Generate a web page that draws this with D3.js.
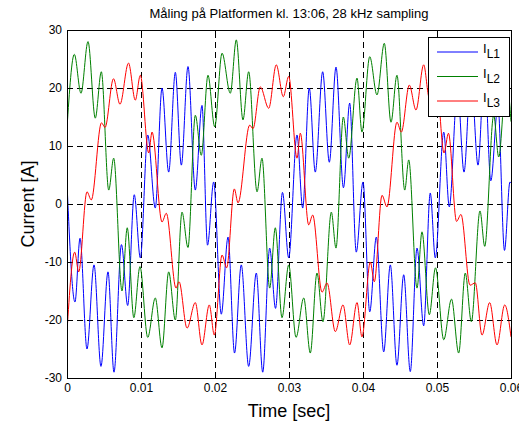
<!DOCTYPE html>
<html>
<head>
<meta charset="utf-8">
<script src="https://d3js.org/d3.v7.min.js"></script>
<style>
body{margin:0;background:#fff;}
text{font-family:Arial,"Liberation Sans",sans-serif;fill:#000;}
</style>
</head>
<body>
<div id="chart"></div>
<script>
// peaks and troughs: [time ms, current A]
var iL1 = [[0,3.6],[1.08,-16.9],[1.76,-5.9],[2.70,-25],[3.65,-10.5],[4.59,-28],[5.54,-11.7],[6.35,-29],[7.36,-7],[8.20,-17.5],[9.09,1.6],[9.91,-9.3],[10.91,11.9],[11.93,-0.7],[12.84,20],[13.74,5.5],[14.64,22.7],[15.45,6.7],[16.35,23.7],[17.34,2.4],[18.24,17],[18.99,-7.1],[19.82,3.8],
  [20.85,-19],[21.76,-5.7],[22.64,-25.7],[23.55,-10.5],[24.55,-28],[25.58,-11.9],[26.45,-29],[27.39,-7.6],[28.18,-18],[29.12,2],[29.96,-9.3],[31.08,11.9],[31.85,-0.7],[32.74,20],[33.55,5.5],[34.55,22.8],[35.45,7.2],[36.35,23.6],[37.36,2.8],[38.20,17.4],[39.09,-8.3],[40.0,3.8],
  [40.91,-18.6],[41.80,-5.7],[42.80,-25.5],[43.69,-10.5],[44.59,-27.8],[45.50,-12.2],[46.39,-28.9],[47.30,-7.6],[48.20,-21],[49.09,1.9],[49.77,-9.3],[50.91,12.4],[51.66,-0.5],[52.77,20],[53.65,5.5],[54.59,22.7],[55.54,6.7],[56.42,23.7],[57.27,4],[58.24,17],[59.12,-8],[59.86,3.8],[60,3.6]];
var iL2 = [[0,13.1],[0.99,25.8],[1.89,19.1],[2.84,28.0],[3.82,14.8],[4.64,22.8],[5.64,2.4],[6.31,7.9],[7.43,-15],[8.14,-4.1],[9.03,-19.6],[9.86,-10.8],[10.91,-23],[11.93,-16.2],[12.84,-24.8],[13.74,-11.7],[14.64,-20],[15.54,-1.4],[16.35,-7.5],[17.34,15.3],[18.15,8.4],[19.05,22.2],[19.96,13.3],
  [20.95,26],[22.07,19.1],[22.88,28.3],[23.78,14.5],[24.55,22.8],[25.68,2.1],[26.35,7.9],[27.39,-14.5],[28.15,-4.1],[29.05,-19.6],[29.96,-10.5],[30.95,-23],[31.99,-16.2],[32.88,-25.7],[33.78,-11.9],[34.59,-20.3],[35.72,-1.4],[36.35,-7.6],[37.34,15],[38.07,7.9],[39.19,21.7],[39.86,12.4],
  [40.91,25.4],[41.89,18.8],[42.88,27.7],[43.78,14.1],[44.59,22.2],[45.64,2.4],[46.18,7.6],[47.30,-14.5],[47.97,-4.8],[48.96,-19.1],[49.80,-11],[50.91,-23.4],[51.96,-16.4],[52.93,-25.7],[53.82,-11.9],[54.64,-20.3],[55.81,-1.2],[56.45,-7.3],[57.66,15.3],[58.34,8.1],[59.36,21.7],[60,14.2]];
var iL3 = [[0,-22],[1.04,-8.3],[1.58,-11.7],[2.70,2.1],[3.28,0.7],[4.66,14],[5.14,13.2],[6.28,21.6],[7.16,17.2],[8.31,24.3],[9.23,17.9],[9.91,22.2],[11.04,8.8],[11.49,12.4],[12.84,-3.1],[13.42,-1.6],[14.73,-14.5],[15.14,-13.4],[16.22,-21.4],[17.34,-17],[18.24,-24.3],[19.23,-17.4],[19.91,-22.6],
  [20.95,-8.8],[21.58,-11],[22.61,2.6],[23.11,0.2],[24.69,13.6],[25.14,13],[26.12,20.2],[27.26,16.5],[28.28,24],[29.23,18.5],[29.96,22],[31.08,7.9],[31.53,12.2],[32.66,-3.6],[33.20,-1.9],[34.46,-15.2],[35.14,-13.6],[36.26,-22],[37.30,-17.4],[38.20,-24.3],[39.19,-17],[39.86,-22.9],
  [40.99,-10],[41.53,-13.4],[42.57,1.5],[43.24,-0.5],[44.59,14.1],[45.18,12.4],[46.26,20.5],[47.16,16.2],[48.20,24],[48.96,18.3],[49.86,22.2],[50.95,8.8],[51.55,12.2],[52.64,-3],[53.24,-1.8],[54.46,-14],[55.18,-13.6],[56.08,-22.6],[57.12,-17],[58.11,-24.3],[59.15,-17.4],[60,-22.9]];

var xTicks = [0, 0.01, 0.02, 0.03, 0.04, 0.05, 0.06];
var yTicks = [-30, -20, -10, 0, 10, 20, 30];
var names = ["L1", "L2", "L3"];
var colors = ["#0000ff", "#008000", "#ff0000"];

var W = 519, H = 422;
var pl = 67, pr = 511, pt = 30, pb = 378;

var svg = d3.select("#chart").append("svg").attr("width", W).attr("height", H);
svg.append("rect").attr("width", W).attr("height", H).attr("fill", "#fff");

var x = d3.scaleLinear().domain([0, 0.06]).range([pl, pr]);
var y = d3.scaleLinear().domain([-30, 30]).range([pb, pt]);

// dashed grid
var grid = svg.append("g").attr("stroke", "#000").attr("stroke-width", 1)
  .attr("stroke-dasharray", "6,4").attr("shape-rendering", "crispEdges");
grid.selectAll(".gx").data(xTicks.slice(1, -1)).join("line")
  .attr("x1", function(d){ return x(d); }).attr("x2", function(d){ return x(d); })
  .attr("y1", pb).attr("y2", pt);
grid.selectAll(".gy").data(yTicks.slice(1, -1)).join("line")
  .attr("x1", pl).attr("x2", pr)
  .attr("y1", function(d){ return y(d); }).attr("y2", function(d){ return y(d); });

svg.append("clipPath").attr("id", "clip").append("rect")
  .attr("x", pl).attr("y", pt).attr("width", pr - pl).attr("height", pb - pt);

var line = d3.line()
  .x(function(d){ return x(d[0] / 1000); })
  .y(function(d){ return y(d[1]); })
  .curve(d3.curveMonotoneX);

var series = [iL1, iL2, iL3];
svg.append("g").attr("clip-path", "url(#clip)").selectAll("path").data(series).join("path")
  .attr("d", line)
  .attr("fill", "none")
  .attr("stroke", function(d, i){ return colors[i]; })
  .attr("stroke-width", 1);

// axes, ticks inside on all four sides
var fmtX = function(d){ return d === 0 ? "0" : d.toFixed(2); };
var fmtY = function(d){ return String(d); };
svg.append("g").attr("transform", "translate(0," + pb + ")")
  .call(d3.axisBottom(x).tickValues(xTicks).tickFormat(fmtX).tickSizeInner(-4).tickSizeOuter(0).tickPadding(5));
svg.append("g").attr("transform", "translate(" + pl + ",0)")
  .call(d3.axisLeft(y).tickValues(yTicks).tickFormat(fmtY).tickSizeInner(-4).tickSizeOuter(0).tickPadding(5));
svg.append("g").attr("transform", "translate(0," + pt + ")")
  .call(d3.axisTop(x).tickValues(xTicks).tickFormat("").tickSizeInner(-4).tickSizeOuter(0));
svg.append("g").attr("transform", "translate(" + pr + ",0)")
  .call(d3.axisRight(y).tickValues(yTicks).tickFormat("").tickSizeInner(-4).tickSizeOuter(0));
svg.selectAll(".tick text").attr("font-size", 12).attr("font-family", "Arial, 'Liberation Sans', sans-serif");
svg.selectAll(".domain, .tick line").attr("stroke", "#000").attr("shape-rendering", "crispEdges");

svg.append("rect").attr("x", pl).attr("y", pt).attr("width", pr - pl).attr("height", pb - pt)
  .attr("fill", "none").attr("stroke", "#000").attr("stroke-width", 1).attr("shape-rendering", "crispEdges");

// title and axis labels
svg.append("text").attr("x", (pl + pr) / 2).attr("y", 18).attr("text-anchor", "middle")
  .attr("font-size", 13).text("Måling på Platformen kl. 13:06, 28 kHz sampling");
svg.append("text").attr("x", (pl + pr) / 2).attr("y", 417).attr("text-anchor", "middle")
  .attr("font-size", 18).text("Time [sec]");
svg.append("text").attr("transform", "translate(34," + (pt + pb) / 2 + ") rotate(-90)")
  .attr("text-anchor", "middle").attr("font-size", 18).text("Current [A]");

// legend
var lg = svg.append("g");
lg.append("rect").attr("x", 428).attr("y", 37).attr("width", 81).attr("height", 79)
  .attr("fill", "#fff").attr("stroke", "#000").attr("stroke-width", 1).attr("shape-rendering", "crispEdges");
var item = lg.selectAll(".item").data(names).join("g")
  .attr("transform", function(d, i){ return "translate(0," + (52 + i * 24.5) + ")"; });
item.append("line").attr("x1", 437).attr("x2", 478).attr("y1", 0).attr("y2", 0)
  .attr("stroke", function(d, i){ return colors[i]; }).attr("stroke-width", 1);
var lt = item.append("text").attr("x", 483).attr("y", 1).attr("font-size", 13);
lt.append("tspan").text("I");
lt.append("tspan").attr("dy", 5).attr("font-size", 12).text(function(d){ return d; });
</script>
</body>
</html>
